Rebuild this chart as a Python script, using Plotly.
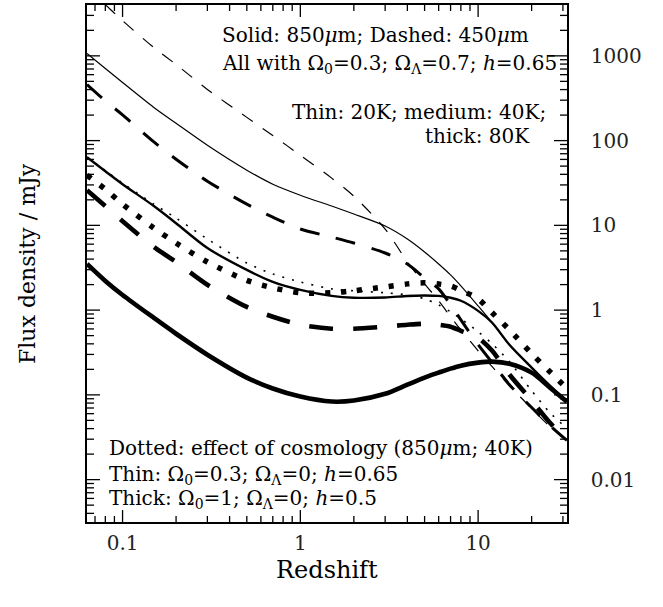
import math
import plotly.graph_objects as go

# Redshift grid shared by all model curves
redshift = [0.0631, 0.08, 0.1, 0.15, 0.2, 0.3, 0.5, 0.7, 1, 1.5, 2, 3, 4, 5, 6, 7, 8,
            10, 12, 15, 20, 25, 31.6]

# 850 micron (solid): 20K thin, 40K medium, 80K thick
s850_20k = [1064, 710, 485, 246, 160, 88.1, 44.8, 30.6, 22.7, 16.9, 13.6, 9.82, 6.9, 4.85,
            3.5, 2.6, 1.93, 1.12, 0.71, 0.39, 0.21, 0.132, 0.083]
s850_40k = [63.7, 43.5, 30.6, 16.9, 10.6, 5.41, 2.98, 2.15, 1.73, 1.47, 1.40, 1.41, 1.47, 1.49,
            1.47, 1.40, 1.29, 0.98, 0.71, 0.39, 0.21, 0.132, 0.083]
s850_80k = [3.51, 2.21, 1.51, 0.81, 0.526, 0.298, 0.16, 0.119, 0.0955, 0.0834, 0.0857, 0.103,
            0.132, 0.16, 0.183, 0.204, 0.221, 0.24, 0.247, 0.233, 0.183, 0.125, 0.083]

# 450 micron (dashed): 20K thin, 40K medium, 80K thick
s450_20k = [6300, 4015, 2600, 1253, 791, 402, 188, 115, 67.1, 36.1, 22.1, 9.04, 3.7, 2.04,
            1.29, 0.834, 0.586, 0.331, 0.215, 0.129, 0.069, 0.0435, 0.029]
s450_40k = [459, 294, 201, 96.6, 60.3, 33.2, 17.8, 12.5, 9.05, 7.28, 6.19, 4.72, 3.5, 2.4,
            1.78, 1.15, 0.769, 0.391, 0.24, 0.132, 0.071, 0.0447, 0.029]
s450_80k = [25.9, 16.9, 11.2, 5.55, 3.7, 1.99, 1.09, 0.834, 0.672, 0.603, 0.603, 0.637, 0.672,
            0.69, 0.672, 0.637, 0.57, 0.472, 0.331, 0.174, 0.0857, 0.0485, 0.029]

# 850 micron, 40K under other cosmologies (dotted)
s850_40k_open = [63.7, 44.3, 31.5, 17.8, 12.2, 6.9, 3.6, 2.67, 2.15, 1.78, 1.69, 1.6, 1.51,
                 1.36, 1.15, 0.955, 0.79, 0.556, 0.40, 0.247, 0.112, 0.0636, 0.0402]
s850_40k_eds = [39, 26.7, 17.8, 9.3, 6.19, 3.7, 2.24, 1.83, 1.6, 1.6, 1.69, 1.88, 2.04, 2.1,
                2.03, 1.93, 1.71, 1.36, 0.93, 0.586, 0.306, 0.193, 0.119]

FONT = "DejaVu Serif"
INK = "black"
X_RANGE = [-1.2, 1.5]      # log10 redshift
Y_RANGE = [-2.5, 3.6]      # log10 mJy
PLOT_W, PLOT_H = 480, 519  # plot area in pixels

curves = [
    (s850_80k, 4.6, "solid"),
    (s850_40k, 2.4, "solid"),
    (s850_20k, 1.2, "solid"),
    (s450_80k, 4.6, "24px,20px"),
    (s450_40k, 3.0, "20px,17px"),
    (s450_20k, 1.2, "13px,12px"),
    (s850_40k_eds, 5.5, "5px,11px"),
    (s850_40k_open, 1.6, "2px,8px"),
]

fig = go.Figure()
for values, width, dash in curves:
    fig.add_trace(go.Scatter(
        x=redshift, y=values, mode="lines",
        line=dict(color=INK, width=width, dash=dash, shape="spline", smoothing=0.8),
        showlegend=False, hoverinfo="skip",
    ))

axis_common = dict(
    type="log", tickmode="linear", tick0=0, dtick=1, exponentformat="none",
    ticks="", showline=True, linecolor=INK, linewidth=1.5, mirror=True,
    showgrid=False, zeroline=False,
    tickfont=dict(family=FONT, size=20, color="#222"),
)

fig.update_layout(
    width=663, height=607,
    margin=dict(l=87, r=96, t=3, b=85),
    paper_bgcolor="white", plot_bgcolor="white",
    font=dict(family=FONT, color=INK, size=19),
    xaxis=dict(axis_common, range=X_RANGE, ticklabelstandoff=2),
    yaxis=dict(axis_common, range=Y_RANGE, side="right", ticklabelstandoff=18),
)


def decade_ticks(lo, hi):
    """Major (powers of ten) and minor (2..9 x 10^n) tick values inside a log range."""
    major, minor = [], []
    for e in range(math.floor(lo) - 1, math.ceil(hi) + 1):
        for m in range(1, 10):
            v = m * 10.0 ** e
            if lo <= math.log10(v) <= hi:
                (major if m == 1 else minor).append(v)
    return major, minor


# Inward tick marks on all four sides of the frame
x_major, x_minor = decade_ticks(*X_RANGE)
y_major, y_minor = decade_ticks(*Y_RANGE)
tick_line = dict(color=INK, width=1.3)
for vals, length in ((x_major, 12), (x_minor, 6)):
    f = length / PLOT_H
    for v in vals:
        fig.add_shape(type="line", xref="x", yref="paper", x0=v, x1=v, y0=0, y1=f, line=tick_line)
        fig.add_shape(type="line", xref="x", yref="paper", x0=v, x1=v, y0=1, y1=1 - f, line=tick_line)
for vals, length in ((y_major, 13), (y_minor, 7)):
    f = length / PLOT_W
    for v in vals:
        fig.add_shape(type="line", xref="paper", yref="y", x0=0, x1=f, y0=v, y1=v, line=tick_line)
        fig.add_shape(type="line", xref="paper", yref="y", x0=1, x1=1 - f, y0=v, y1=v, line=tick_line)


def note(text, x, y, anchor="left", size=20, angle=0):
    fig.add_annotation(text=text, xref="paper", yref="paper", x=x, y=y,
                       xanchor=anchor, yanchor="middle", showarrow=False,
                       textangle=angle, font=dict(family=FONT, size=size, color=INK))

note("Solid: 850<i>μ</i>m; Dashed: 450<i>μ</i>m", 0.277, 0.942)
note("All with Ω<sub>0</sub>=0.3; Ω<sub>Λ</sub>=0.7; <i>h</i>=0.65", 0.277, 0.886)
note("Thin: 20K; medium: 40K;", 0.960, 0.794, anchor="right")
note("thick: 80K", 0.927, 0.746, anchor="right")
note("Dotted: effect of cosmology (850<i>μ</i>m; 40K)", 0.042, 0.143)
note("Thin: Ω<sub>0</sub>=0.3; Ω<sub>Λ</sub>=0; <i>h</i>=0.65", 0.042, 0.090)
note("Thick: Ω<sub>0</sub>=1; Ω<sub>Λ</sub>=0; <i>h</i>=0.5", 0.042, 0.044)

note("Redshift", 0.5, -0.0925, anchor="center", size=24)
note("Flux density / mJy", -0.123, 0.501, anchor="center", size=22, angle=-90)

fig.write_html("out.html")
